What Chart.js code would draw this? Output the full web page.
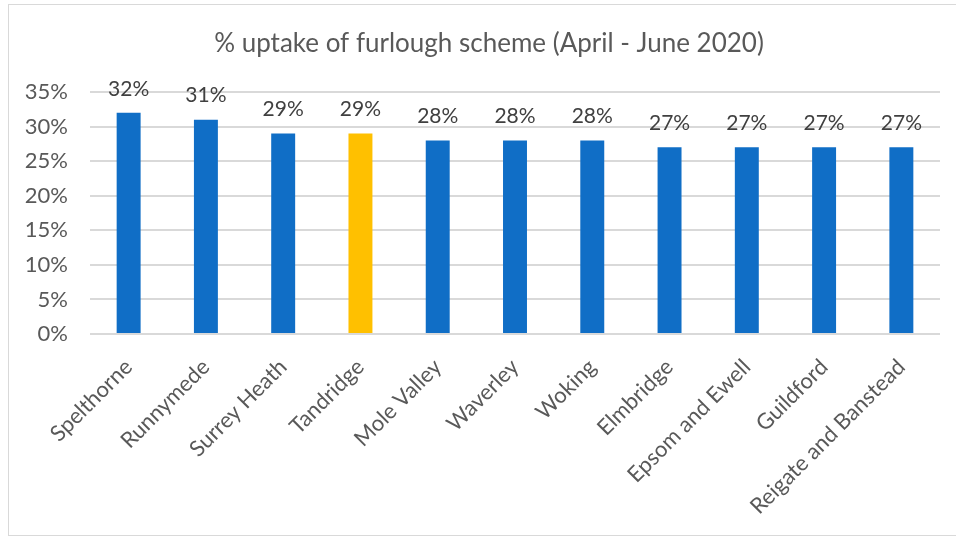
<!DOCTYPE html>
<html>
<head>
<meta charset="utf-8">
<script src="https://cdn.jsdelivr.net/npm/chart.js@4/dist/chart.umd.min.js"></script>
<style>
  html, body { margin: 0; padding: 0; background: #fff; overflow: hidden; }
  #frame { position: absolute; left: 8px; top: 4px; width: 1000px; height: 530px; border: 1px solid #d9d9d9; }
  #wrap { position: absolute; left: 0; top: 0; width: 956px; height: 537px; }
</style>
</head>
<body>
<div id="frame"></div>
<div id="wrap"><canvas id="barChart"></canvas></div>
<script>
  'use strict';
  var districts = ['Spelthorne', 'Runnymede', 'Surrey Heath', 'Tandridge', 'Mole Valley', 'Waverley',
    'Woking', 'Elmbridge', 'Epsom and Ewell', 'Guildford', 'Reigate and Banstead'];
  var uptake = [32, 31, 29, 29, 28, 28, 28, 27, 27, 27, 27];
  var highlight = 'Tandridge';
  var chartTitle = '% uptake of furlough scheme (April - June 2020)';

  var blue = '#106ec6';
  var yellow = '#ffc000';
  var textGrey = '#595959';

  // value above each bar + the title (centred on the frame, not the canvas)
  var valueLabels = {
    id: 'valueLabels',
    afterDatasetsDraw: function(chart) {
      var ctx = chart.ctx;
      var meta = chart.getDatasetMeta(0);
      ctx.save();
      ctx.font = '21px Lato';
      ctx.fillStyle = '#404040';
      ctx.textAlign = 'center';
      ctx.textBaseline = 'middle';
      meta.data.forEach(function(bar, i) {
        ctx.fillText(uptake[i] + '%', bar.x, bar.y - 24);
      });
      ctx.font = '26px Lato';
      ctx.fillStyle = textGrey;
      ctx.fillText(chartTitle, 489, 44);
      ctx.restore();
    }
  };

  var ctx = document.getElementById('barChart').getContext('2d');
  var barChart = new Chart(ctx, {
    type: 'bar',
    data: {
      labels: districts,
      datasets: [{
        data: uptake,
        backgroundColor: districts.map(function(d) { return d === highlight ? yellow : blue; }),
        barPercentage: 0.31,
        categoryPercentage: 1
      }]
    },
    options: {
      responsive: true,
      maintainAspectRatio: false,
      animation: false,
      layout: { padding: { left: 0, right: 16, top: 92, bottom: 0 } },
      plugins: {
        legend: { display: false },
        tooltip: { enabled: false },
        title: { display: false }
      },
      scales: {
        x: {
          grid: { display: false },
          border: { display: false },
          ticks: {
            color: textGrey,
            font: { family: 'Lato', size: 22 },
            minRotation: 45,
            maxRotation: 45,
            padding: 12,
            autoSkip: false
          },
          afterFit: function(scale) { scale.height = 203; }
        },
        y: {
          min: 0,
          max: 35,
          grid: { color: '#d9d9d9', lineWidth: 2, drawTicks: false },
          border: { display: false },
          ticks: {
            stepSize: 5,
            color: textGrey,
            font: { family: 'Lato', size: 22 },
            padding: 22,
            callback: function(v) { return v + '%'; }
          },
          afterFit: function(scale) { scale.width = 90; }
        }
      }
    },
    plugins: [valueLabels]
  });
</script>
</body>
</html>
